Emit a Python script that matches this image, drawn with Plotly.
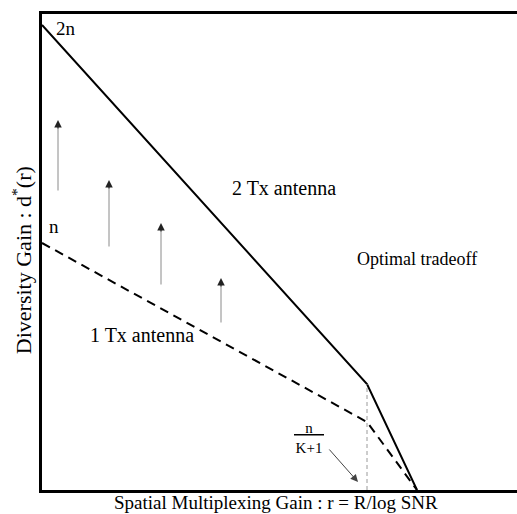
import plotly.graph_objects as go

# Data (arbitrary units)
r_two_tx = [0.0, 3.25, 3.75]
d_two_tx = [4.65, 1.06, 0.0]
r_one_tx = [0.0, 3.25, 3.75]
d_one_tx = [2.47, 0.68, 0.0]
r_corner = [3.25, 3.25]
d_corner = [0.0, 1.06]

arrow_x = [0.16, 0.67, 1.19, 1.79]
arrow_y0 = [2.98, 2.42, 2.04, 1.66]
arrow_y1 = [3.70, 3.10, 2.67, 2.12]

FONT = "Liberation Serif"

fig = go.Figure()
fig.add_trace(go.Scatter(x=r_two_tx, y=d_two_tx, mode="lines",
                         line=dict(color="black", width=2), showlegend=False, cliponaxis=False))
fig.add_trace(go.Scatter(x=r_one_tx, y=d_one_tx, mode="lines",
                         line=dict(color="black", width=2, dash="9px,6px"), showlegend=False, cliponaxis=False))
fig.add_trace(go.Scatter(x=r_corner, y=d_corner, mode="lines",
                         line=dict(color="#9a9a9a", width=1, dash="4px,3px"), showlegend=False))

ann = []
for x, y0, y1 in zip(arrow_x, arrow_y0, arrow_y1):
    # gray shaft
    ann.append(dict(x=x, y=y1 - 0.06, ax=x, ay=y0, xref="x", yref="y", axref="x", ayref="y",
                    showarrow=True, arrowhead=0, arrowwidth=1,
                    arrowcolor="#8a8a8a", text=""))
    # dark head
    ann.append(dict(x=x, y=y1, ax=x, ay=y1 - 0.1, xref="x", yref="y", axref="x", ayref="y",
                    showarrow=True, arrowhead=2, arrowsize=1.5, arrowwidth=1,
                    arrowcolor="#222222", text=""))
ann.append(dict(x=3.16, y=0.08, ax=2.86, ay=0.42, xref="x", yref="y", axref="x", ayref="y",
                showarrow=True, arrowhead=2, arrowsize=1.5, arrowwidth=1,
                arrowcolor="#444444", text=""))

labels = [
    ("2n", 0.12, 4.62, 19),
    ("n", 0.05, 2.64, 19),
    ("2 Tx antenna", 1.88, 3.02, 20),
    ("Optimal tradeoff", 3.13, 2.31, 18),
    ("1 Tx antenna", 0.46, 1.55, 20),
]
for t, x, y, s in labels:
    ann.append(dict(x=x, y=y, xref="x", yref="y", text=t, showarrow=False,
                    xanchor="left", yanchor="middle", font=dict(family=FONT, size=s, color="black")))

ann.append(dict(x=2.67, y=0.52, xref="x", yref="y",
                text="<u>&nbsp;&nbsp;&nbsp;n&nbsp;&nbsp;&nbsp;</u><br>K+1", showarrow=False,
                align="center", xanchor="center", yanchor="middle",
                font=dict(family=FONT, size=15, color="black")))

ann.append(dict(x=0.493, y=-0.0273, xref="paper", yref="paper",
                text="Spatial Multiplexing Gain : r = R/log SNR", showarrow=False,
                xanchor="center", yanchor="middle", font=dict(family=FONT, size=19, color="black")))
ann.append(dict(x=-0.042, y=0.483, xref="paper", yref="paper", textangle=-90,
                text="Diversity Gain : d<sup>*</sup>(r)", showarrow=False,
                xanchor="center", yanchor="middle", font=dict(family=FONT, size=22, color="black")))

fig.update_layout(
    width=517, height=514,
    margin=dict(l=42, r=0, t=14, b=24),
    paper_bgcolor="white", plot_bgcolor="white",
    annotations=ann,
    xaxis=dict(range=[0, 4.75], showgrid=False, zeroline=False, showticklabels=False,
               ticks="", showline=True, linewidth=3, linecolor="black", mirror=True, fixedrange=True),
    yaxis=dict(range=[0, 4.76], showgrid=False, zeroline=False, showticklabels=False,
               ticks="", showline=True, linewidth=3, linecolor="black", mirror=False, fixedrange=True),
)

fig.write_html("out.html")
